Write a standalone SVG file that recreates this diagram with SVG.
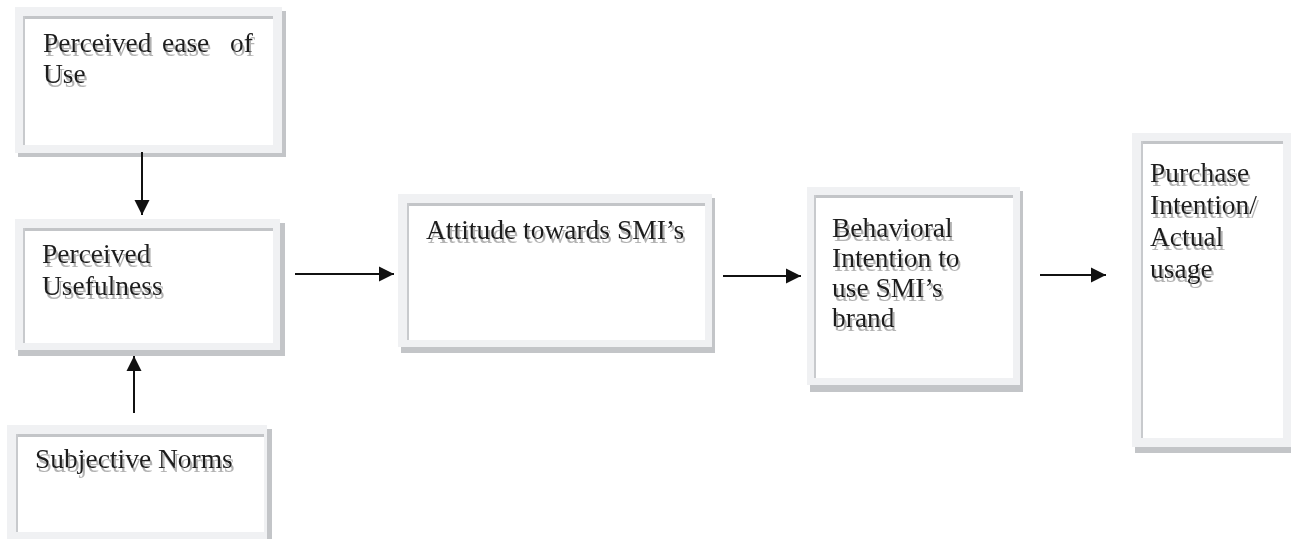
<svg xmlns="http://www.w3.org/2000/svg" width="1291" height="539" viewBox="0 0 1291 539">
  <defs>
    <style>
      .outer { fill: #f0f1f3; }
      .shadow { fill: #c3c5c8; }
      .inner { fill: #ffffff; }
      .edge { fill: #c3c5c8; }
      .ledge { fill: #c8cacd; }
      .t { font-family: "Liberation Serif", "Times New Roman", serif; font-size: 27.5px; fill: #1c1c1c; filter: url(#tshadow); }
      .conn { stroke: #111; stroke-width: 2; fill: none; }
    </style>
    <filter id="tshadow" x="-10%" y="-30%" width="125%" height="170%">
      <feOffset in="SourceAlpha" dx="2" dy="4" result="o"/>
      <feFlood flood-color="#b2b2b2"/>
      <feComposite in2="o" operator="in" result="s"/>
      <feMerge><feMergeNode in="s"/><feMergeNode in="SourceGraphic"/></feMerge>
    </filter>
    <marker id="arr" viewBox="0 0 10 10" refX="10" refY="5" markerUnits="userSpaceOnUse" markerWidth="15" markerHeight="16" orient="auto">
      <path d="M0,0 L10,5 L0,10 Z" fill="#111"/>
    </marker>
  </defs>
  <rect width="1291" height="539" fill="#ffffff"/>

  <g id="node-ease">
    <rect class="shadow" x="18" y="11" width="268" height="146"/>
    <rect class="outer" x="15" y="7" width="267" height="146"/>
    <rect class="inner" x="23" y="16" width="250" height="129"/>
    <rect class="edge" x="23" y="16" width="250" height="3"/>
    <rect class="ledge" x="23" y="16" width="2" height="129"/>
    <text class="t" x="43" y="52"><tspan x="43">Perceived</tspan><tspan x="162">ease</tspan><tspan x="230">of</tspan><tspan x="43" y="83">Use</tspan></text>
  </g>

  <g id="node-usefulness">
    <rect class="shadow" x="18" y="223" width="267" height="133"/>
    <rect class="outer" x="15" y="219" width="265" height="131"/>
    <rect class="inner" x="23" y="228" width="250" height="115"/>
    <rect class="edge" x="23" y="228" width="250" height="3"/>
    <rect class="ledge" x="23" y="228" width="2" height="115"/>
    <text class="t" x="42" y="263">Perceived<tspan x="42" y="295">Usefulness</tspan></text>
  </g>

  <g id="node-norms">
    <rect class="shadow" x="10" y="429" width="262" height="115"/>
    <rect class="outer" x="7" y="425" width="260" height="115"/>
    <rect class="inner" x="16" y="434" width="248" height="98"/>
    <rect class="edge" x="16" y="434" width="248" height="3"/>
    <rect class="ledge" x="16" y="434" width="2" height="98"/>
    <text class="t" x="35" y="468">Subjective Norms</text>
  </g>

  <g id="node-attitude">
    <rect class="shadow" x="401" y="198" width="314" height="155"/>
    <rect class="outer" x="398" y="194" width="314" height="153"/>
    <rect class="inner" x="407" y="203" width="298" height="137"/>
    <rect class="edge" x="407" y="203" width="298" height="3"/>
    <rect class="ledge" x="407" y="203" width="2" height="137"/>
    <text class="t" x="426" y="239">Attitude towards SMI’s</text>
  </g>

  <g id="node-behavioral">
    <rect class="shadow" x="810" y="191" width="213" height="201"/>
    <rect class="outer" x="807" y="187" width="213" height="198"/>
    <rect class="inner" x="814" y="195" width="199" height="183"/>
    <rect class="edge" x="814" y="195" width="199" height="3"/>
    <rect class="ledge" x="814" y="195" width="2" height="183"/>
    <text class="t" x="832" y="237">Behavioral<tspan x="832" y="267">Intention to</tspan><tspan x="832" y="297">use SMI’s</tspan><tspan x="832" y="327">brand</tspan></text>
  </g>

  <g id="node-purchase">
    <rect class="shadow" x="1135" y="137" width="160" height="316"/>
    <rect class="outer" x="1132" y="133" width="159" height="314"/>
    <rect class="inner" x="1141" y="141" width="142" height="297"/>
    <rect class="edge" x="1141" y="141" width="142" height="3"/>
    <rect class="ledge" x="1141" y="141" width="2" height="297"/>
    <text class="t" x="1150" y="182">Purchase<tspan x="1150" y="214">Intention/</tspan><tspan x="1150" y="246">Actual</tspan><tspan x="1150" y="278">usage</tspan></text>
  </g>

  <g id="connectors">
    <line class="conn" x1="142" y1="152" x2="142" y2="215" marker-end="url(#arr)"/>
    <line class="conn" x1="134" y1="413" x2="134" y2="356" marker-end="url(#arr)"/>
    <line class="conn" x1="295" y1="274" x2="394" y2="274" marker-end="url(#arr)"/>
    <line class="conn" x1="723" y1="276" x2="801" y2="276" marker-end="url(#arr)"/>
    <line class="conn" x1="1040" y1="275" x2="1106" y2="275" marker-end="url(#arr)"/>
  </g>
</svg>
